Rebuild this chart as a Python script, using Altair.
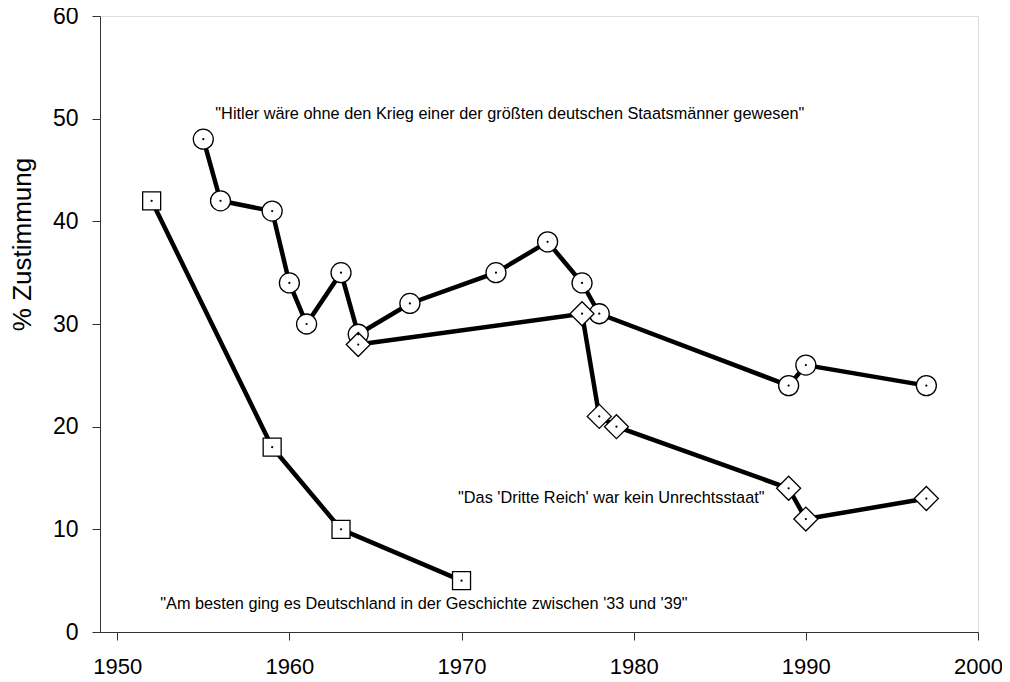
import altair as alt
import pandas as pd

# Series data
years_hitler = [1955, 1956, 1959, 1960, 1961, 1963, 1964, 1967, 1972, 1975, 1977, 1978, 1989, 1990, 1997]
vals_hitler = [48, 42, 41, 34, 30, 35, 29, 32, 35, 38, 34, 31, 24, 26, 24]

years_reich = [1964, 1977, 1978, 1979, 1989, 1990, 1997]
vals_reich = [28, 31, 21, 20, 14, 11, 13]

years_best = [1952, 1959, 1963, 1970]
vals_best = [42, 18, 10, 5]

series_names = ["hitler", "reich", "best"]
series_shapes = ["circle", "diamond", "square"]
series_sizes = [400, 576, 324]

ann_labels = [
    '"Hitler wäre ohne den Krieg einer der größten deutschen Staatsmänner gewesen"',
    '"Das \'Dritte Reich\' war kein Unrechtsstaat"',
    '"Am besten ging es Deutschland in der Geschichte zwischen \'33 und \'39"',
]
ann_x = [1955.7, 1969.8, 1952.5]
ann_y = [50.5, 13.1, 2.7]

x_ticks = [1950, 1960, 1970, 1980, 1990, 2000]
y_ticks = [0, 10, 20, 30, 40, 50, 60]

rows = []
for name, ys, vs in [("hitler", years_hitler, vals_hitler),
                     ("reich", years_reich, vals_reich),
                     ("best", years_best, vals_best)]:
    for y, v in zip(ys, vs):
        rows.append({"series": name, "year": y, "value": v})
df = pd.DataFrame(rows)
ann = pd.DataFrame({"label": ann_labels, "x": ann_x, "y": ann_y})

FONT = "Liberation Sans"

xscale = alt.Scale(domain=[1949, 2000], nice=False, zero=False)
yscale = alt.Scale(domain=[0, 60], nice=False)

xenc = alt.X("year:Q", scale=xscale,
             axis=alt.Axis(values=x_ticks, title=None, grid=False, format="d",
                           labelFontSize=22, labelFont=FONT, labelColor="black",
                           tickSize=8, tickColor="#333", domainColor="#333",
                           labelPadding=16, labelFlush=False))
yenc = alt.Y("value:Q", scale=yscale,
             axis=alt.Axis(values=y_ticks, title="% Zustimmung", grid=False,
                           labelFontSize=23, labelFont=FONT, labelColor="black",
                           tickSize=8, tickColor="#333", domainColor="#333",
                           labelPadding=14, labelFlush=False,
                           titleFontSize=26, titleFont=FONT, titleFontWeight="normal",
                           titleColor="black", titleX=-78, titleY=228,
                           titleAngle=-90, titleAlign="center", titleBaseline="middle"))

base = alt.Chart(df)

lines = base.mark_line(color="black", strokeWidth=4.5).encode(
    x=xenc, y=yenc, detail="series:N", order="year:Q"
)

layers = [lines]
for name, shp, sz in zip(series_names, series_shapes, series_sizes):
    layers.append(
        base.transform_filter(alt.datum.series == name).mark_point(
            filled=True, fill="white", stroke="black", strokeWidth=1.3, opacity=1,
            shape=shp, size=sz
        ).encode(x="year:Q", y="value:Q")
    )

dots = base.mark_point(filled=True, color="black", shape="circle", size=5, opacity=1).encode(
    x="year:Q", y="value:Q"
)
layers.append(dots)

texts = alt.Chart(ann).mark_text(align="left", baseline="middle", fontSize=16.3, font=FONT, color="black").encode(
    x="x:Q", y="y:Q", text="label:N"
)
layers.append(texts)

chart = alt.layer(*layers).properties(
    width=878, height=616,
    autosize=alt.AutoSizeParams(type="none"),
    padding={"left": 92, "top": 8, "right": 24, "bottom": 46},
).configure_view(stroke=None).configure(background="white")

chart.save("out.html", embed_options={"renderer": "svg", "actions": False})
